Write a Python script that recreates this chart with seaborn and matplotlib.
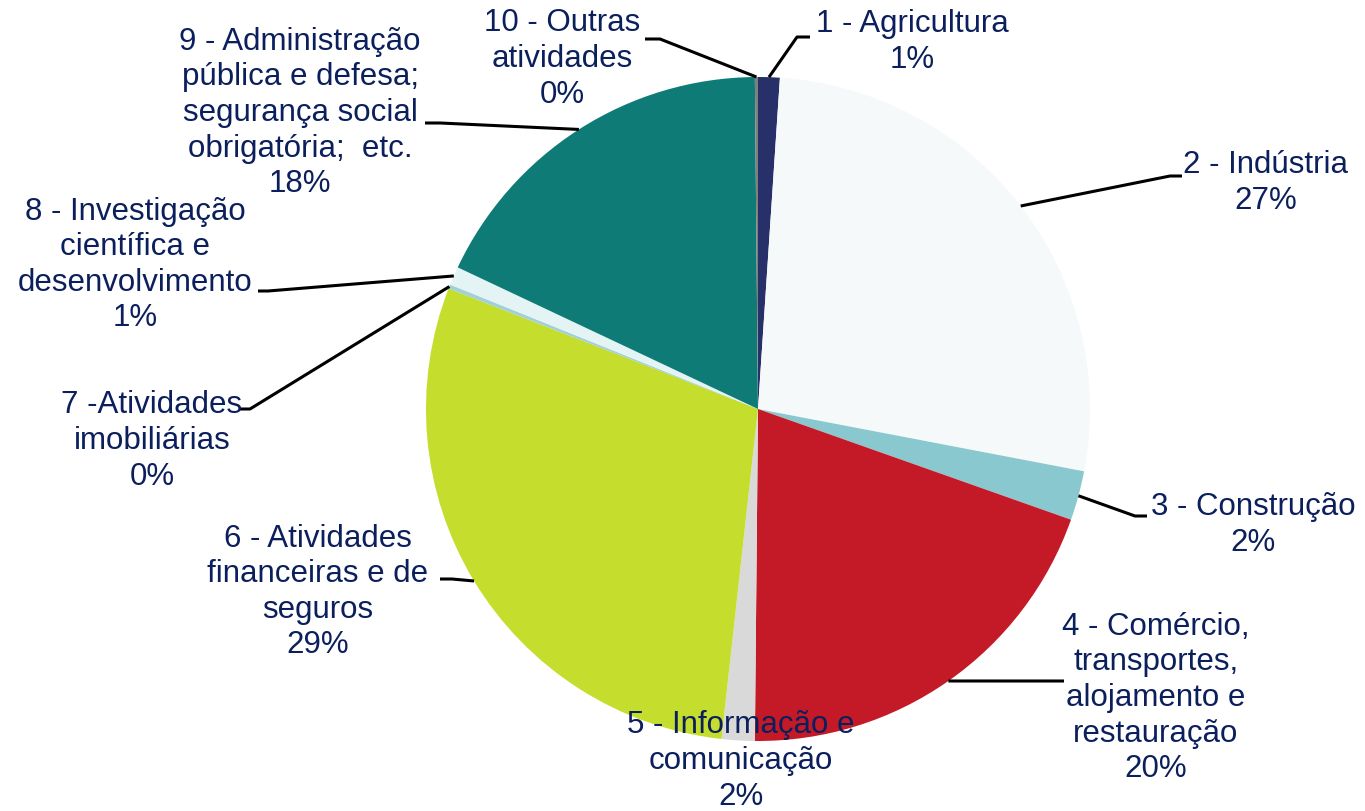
import numpy as np
import seaborn as sns
import matplotlib.pyplot as plt

# Dados do gráfico (percentagens)
setores = ["1 - Agricultura", "2 - Indústria", "3 - Construção",
           "4 - Comércio,\ntransportes,\nalojamento e\nrestauração",
           "5 - Informação e\ncomunicação",
           "6 - Atividades\nfinanceiras e de\nseguros",
           "7 -Atividades\nimobiliárias",
           "8 - Investigação\ncientífica e\ndesenvolvimento",
           "9 - Administração\npública e defesa;\nsegurança social\nobrigatória;  etc.",
           "10 - Outras\natividades"]
valores = [1.05, 26.9, 2.4, 19.7, 1.6, 29.1, 0.2, 0.9, 17.8, 0.15]
cores = ["#28306A", "#F5F9FA", "#8AC8CF", "#C41A28", "#D9D9D9",
         "#C5DD2D", "#A0D0D8", "#E4F3F4", "#0E7B77", "#7F7F7F"]

# Posições dos rótulos (pixels da imagem): centro do texto, cotovelo e fim da linha
pos_texto = [(912, 42), (1266, 183), (1253, 525), (1156, 698), (741, 761),
             (318, 592), (152, 441), (135, 265), (300, 113), (562, 59)]
cotovelo = [(797, 38), (1170, 177), (1135, 517), (1050, 682), None,
            (452, 580), (250, 410), (268, 292), (440, 124), (660, 40)]
fim_linha = [810, 1182, 1147, 1064, None, 440, 240, 258, 425, 645]

CX, CY, R = 758, 410, 332
W, H = 1365, 812


def px(x, y):
    return (x - CX) / R, (CY - y) / R


sns.set_theme(style="white")
plt.rcParams["font.family"] = ["Liberation Sans", "DejaVu Sans"]
cor_texto = "#0B1F5C"

fig = plt.figure(figsize=(W / 100, H / 100), dpi=100)
ax = fig.add_axes([0, 0, 1, 1])
fatias, _ = ax.pie(valores, colors=cores, startangle=90, counterclock=False,
                   wedgeprops=dict(linewidth=0))
ax.set_xlim(px(0, 0)[0], px(W, 0)[0])
ax.set_ylim(px(0, H)[1], px(0, 0)[1])
ax.axis("off")

for i, f in enumerate(fatias):
    texto = f"{setores[i]}\n{valores[i]:.0f}%"
    tx, ty = px(*pos_texto[i])
    ax.text(tx, ty, texto, ha="center", va="center", fontsize=22.5,
            color=cor_texto, linespacing=1.24, zorder=5)
    if cotovelo[i] is None:
        continue
    ang = np.deg2rad((f.theta1 + f.theta2) / 2)
    x0, y0 = np.cos(ang), np.sin(ang)
    ex, ey = px(*cotovelo[i])
    hx, _ = px(fim_linha[i], 0)
    ax.plot([x0, ex, hx], [y0, ey, ey], color="black", lw=2.2,
            solid_capstyle="butt", zorder=4)

fig.savefig("out.png", dpi=100)
